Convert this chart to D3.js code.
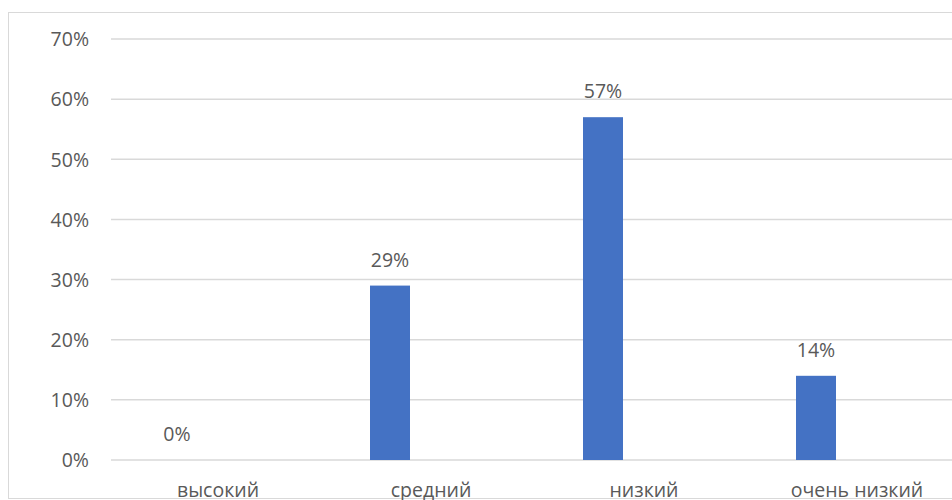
<!DOCTYPE html>
<html>
<head>
<meta charset="utf-8">
<script src="https://cdn.jsdelivr.net/npm/d3@7"></script>
<style>
  html, body { margin: 0; padding: 0; background: #fff; }
  svg { display: block; }
  text { font-family: "Open Sans", sans-serif; fill: #595959; }
</style>
</head>
<body>
<svg id="chart" width="952" height="500"></svg>
<script>
const categories = ["высокий", "средний", "низкий", "очень низкий"];
const values = [0, 29, 57, 14];
const yTicks = [0, 10, 20, 30, 40, 50, 60, 70];

const svg = d3.select("#chart");
const W = 952, H = 500;
const fontSize = 19.5;

// chart area border
svg.append("rect")
  .attr("x", 8.5).attr("y", 12.5)
  .attr("width", 1000).attr("height", 486)
  .attr("fill", "none").attr("stroke", "#d9d9d9").attr("stroke-width", 1);

const x = d3.scaleBand().domain(categories).range([111.5, 963.5]).paddingInner(0).paddingOuter(0);
const y = d3.scaleLinear().domain([0, 70]).range([460, 39]);

// gridlines
svg.append("g").selectAll("line").data(yTicks).join("line")
  .attr("x1", 111).attr("x2", W)
  .attr("y1", d => y(d)).attr("y2", d => y(d))
  .attr("stroke", "#d9d9d9").attr("stroke-width", 1.5);

// y axis labels
const yAxis = d3.axisLeft(y).tickValues(yTicks).tickFormat(d => d + "%").tickSize(0).tickPadding(0);
const gy = svg.append("g").attr("transform", "translate(89,0)").call(yAxis);
gy.select(".domain").remove();
gy.selectAll("text").attr("font-size", fontSize).attr("font-family", "Open Sans, sans-serif")
  .attr("fill", "#595959").attr("dy", "0.35em");

// x axis labels
const xAxis = d3.axisBottom(x).tickSize(0).tickPadding(0);
const gx = svg.append("g").attr("transform", "translate(0,460)").call(xAxis);
gx.select(".domain").remove();
gx.selectAll("text").attr("font-size", fontSize).attr("font-family", "Open Sans, sans-serif")
  .attr("fill", "#595959").attr("dy", null).attr("y", 37);

const barW = 40, barOff = -61;
// bars
svg.append("g").selectAll("rect").data(values).join("rect")
  .attr("x", (d, i) => x(categories[i]) + x.bandwidth() / 2 + barOff)
  .attr("width", barW)
  .attr("y", d => y(d))
  .attr("height", d => y(0) - y(d))
  .attr("fill", "#4472c4");

// data labels
svg.append("g").selectAll("text").data(values).join("text")
  .attr("x", (d, i) => x(categories[i]) + x.bandwidth() / 2 + barOff + barW / 2)
  .attr("y", d => y(d) - 19)
  .attr("text-anchor", "middle")
  .attr("font-size", fontSize)
  .text(d => d + "%");
</script>
</body>
</html>
